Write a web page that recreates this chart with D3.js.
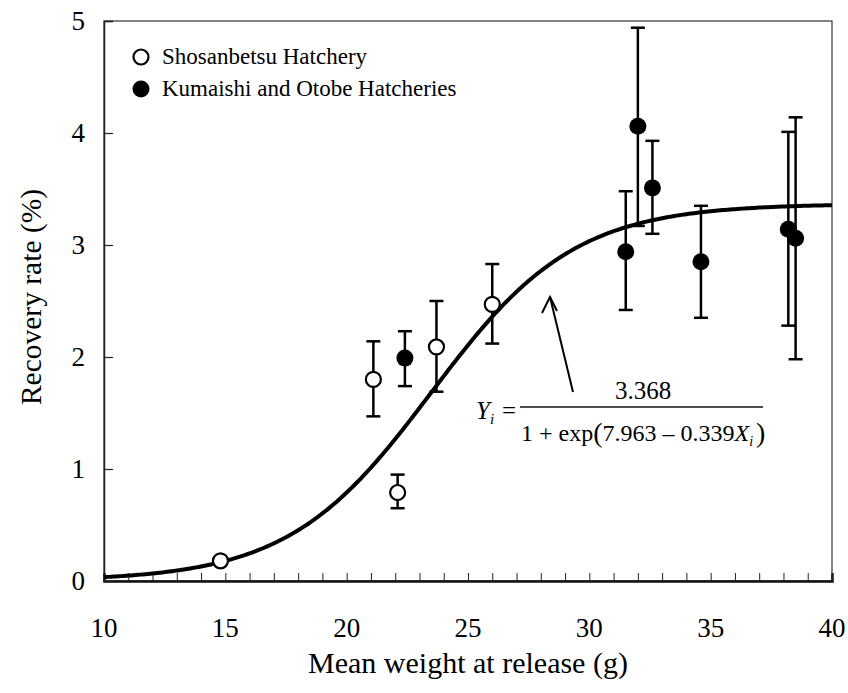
<!DOCTYPE html>
<html>
<head>
<meta charset="utf-8">
<script src="https://cdn.jsdelivr.net/npm/d3@7"></script>
<style>
  html, body { margin: 0; padding: 0; background: #fff; }
  #chart text, #chart tspan { font-family: "Liberation Serif", "Times New Roman", Tinos, serif; }
</style>
</head>
<body>
<svg id="chart" width="848" height="693"></svg>
<script>
// Shosanbetsu Hatchery: mean weight (g), recovery rate (%), error bar bounds
const shoWeight = [14.8, 21.1, 22.1, 23.7, 26.0];
const shoRate   = [0.18, 1.80, 0.79, 2.09, 2.47];
const shoLow    = [0.15, 1.47, 0.65, 1.69, 2.12];
const shoHigh   = [0.21, 2.14, 0.95, 2.50, 2.83];

// Kumaishi and Otobe Hatcheries
const kumWeight = [22.4, 31.5, 32.0, 32.6, 34.6, 38.2, 38.5];
const kumRate   = [1.99, 2.94, 4.06, 3.51, 2.85, 3.14, 3.06];
const kumLow    = [1.74, 2.42, 3.17, 3.10, 2.35, 2.28, 1.98];
const kumHigh   = [2.23, 3.48, 4.94, 3.93, 3.35, 4.01, 4.14];

// Fitted logistic model: Y = A / (1 + exp(B - C X))
const fitA = 3.368, fitB = 7.963, fitC = 0.339;

const xTicks = [10, 15, 20, 25, 30, 35, 40];
const yTicks = [0, 1, 2, 3, 4, 5];

const svg = d3.select("#chart");
const margin = { left: 104, right: 16, top: 21, bottom: 112 };
const W = 848, H = 693;
const x = d3.scaleLinear().domain([10, 40]).range([margin.left, W - margin.right]);
const y = d3.scaleLinear().domain([0, 5]).range([H - margin.bottom, margin.top]);

function label(sel) {
  return sel.style("font-family", '"Liberation Serif"').attr("fill", "#000");
}

// frame
svg.append("rect")
  .attr("x", x(10)).attr("y", y(5))
  .attr("width", x(40) - x(10)).attr("height", y(0) - y(5))
  .attr("fill", "none").attr("stroke", "#333").attr("stroke-width", 1.2);

// x axis: inward minor ticks every 1 g, labels every 5 g
const xAxis = d3.axisBottom(x).tickValues(d3.range(10, 41, 1)).tickSize(-8).tickFormat("");
const gx = svg.append("g").attr("transform", `translate(0,${y(0)})`).call(xAxis);
gx.select(".domain").attr("stroke", "#111").attr("stroke-width", 2.5);
gx.selectAll(".tick line").attr("stroke", "#222").attr("stroke-width", 1);

svg.append("g").selectAll("text").data(xTicks).join("text")
  .call(label)
  .attr("x", d => x(d)).attr("y", y(0) + 56)
  .attr("text-anchor", "middle")
  .attr("font-size", 27)
  .text(d => d);

// y axis: inward ticks at each unit
const yAxis = d3.axisLeft(y).tickValues(yTicks).tickSize(-9).tickFormat("");
const gy = svg.append("g").attr("transform", `translate(${x(10)},0)`).call(yAxis);
gy.select(".domain").attr("stroke", "#222").attr("stroke-width", 1.5);
gy.selectAll(".tick line").attr("stroke", "#222").attr("stroke-width", 1.2);

svg.append("g").selectAll("text").data(yTicks).join("text")
  .call(label)
  .attr("x", x(10) - 19).attr("y", d => y(d) + 9)
  .attr("text-anchor", "end")
  .attr("font-size", 27)
  .text(d => d);

// axis titles
svg.append("text").call(label)
  .attr("x", (x(10) + x(40)) / 2).attr("y", 673)
  .attr("text-anchor", "middle").attr("font-size", 30)
  .text("Mean weight at release (g)");
svg.append("text").call(label)
  .attr("transform", `translate(41,297) rotate(-90)`)
  .attr("text-anchor", "middle").attr("font-size", 29.5)
  .text("Recovery rate (%)");

// fitted curve
const curveX = d3.range(10, 40.01, 0.1);
const line = d3.line().x(d => x(d)).y(d => y(fitA / (1 + Math.exp(fitB - fitC * d))));
svg.append("path").datum(curveX)
  .attr("d", line).attr("fill", "none")
  .attr("stroke", "#000").attr("stroke-width", 4);

// error bars and points
function drawSeries(wt, rate, lo, hi, filled) {
  const g = svg.append("g");
  const idx = d3.range(wt.length);
  const cap = 7;
  g.selectAll("line.v").data(idx).join("line")
    .attr("x1", i => x(wt[i])).attr("x2", i => x(wt[i]))
    .attr("y1", i => y(lo[i])).attr("y2", i => y(hi[i]))
    .attr("stroke", "#000").attr("stroke-width", 2.5);
  g.selectAll("line.top").data(idx).join("line")
    .attr("x1", i => x(wt[i]) - cap).attr("x2", i => x(wt[i]) + cap)
    .attr("y1", i => y(hi[i])).attr("y2", i => y(hi[i]))
    .attr("stroke", "#000").attr("stroke-width", 2.5);
  g.selectAll("line.bot").data(idx).join("line")
    .attr("x1", i => x(wt[i]) - cap).attr("x2", i => x(wt[i]) + cap)
    .attr("y1", i => y(lo[i])).attr("y2", i => y(lo[i]))
    .attr("stroke", "#000").attr("stroke-width", 2.5);
  g.selectAll("circle").data(idx).join("circle")
    .attr("cx", i => x(wt[i])).attr("cy", i => y(rate[i]))
    .attr("r", filled ? 8.5 : 7.5)
    .attr("fill", filled ? "#000" : "#fff")
    .attr("stroke", "#000").attr("stroke-width", filled ? 0 : 2.2);
}
drawSeries(shoWeight, shoRate, shoLow, shoHigh, false);
drawSeries(kumWeight, kumRate, kumLow, kumHigh, true);

// legend
const legend = svg.append("g");
legend.append("circle").attr("cx", 141).attr("cy", 57).attr("r", 7.5)
  .attr("fill", "#fff").attr("stroke", "#000").attr("stroke-width", 2.2);
legend.append("text").call(label).attr("x", 162).attr("y", 64).attr("font-size", 23)
  .text("Shosanbetsu Hatchery");
legend.append("circle").attr("cx", 141).attr("cy", 89).attr("r", 8.5).attr("fill", "#000");
legend.append("text").call(label).attr("x", 162).attr("y", 96).attr("font-size", 23)
  .text("Kumaishi and Otobe Hatcheries");

// arrow pointing at the curve
const arrow = svg.append("g").attr("stroke", "#000").attr("stroke-width", 2).attr("fill", "none");
arrow.append("line").attr("x1", 573).attr("y1", 392).attr("x2", 550).attr("y2", 297);
arrow.append("path").attr("d", "M542,313 L550,297 L557,311");

// model equation
const eq = svg.append("g");
const lhs = eq.append("text").call(label).attr("x", 476).attr("y", 419).attr("font-size", 25);
lhs.append("tspan").attr("font-style", "italic").text("Y");
lhs.append("tspan").attr("font-style", "italic").attr("font-size", 15).attr("dy", 5).text("i");
lhs.append("tspan").attr("dy", -5).attr("dx", 8).text("=");
eq.append("line").attr("x1", 520).attr("x2", 763).attr("y1", 407).attr("y2", 407)
  .attr("stroke", "#111").attr("stroke-width", 1.3);
eq.append("text").call(label).attr("x", 643).attr("y", 399).attr("text-anchor", "middle")
  .attr("font-size", 25).text("3.368");
const den = eq.append("text").call(label).attr("x", 521).attr("y", 441).attr("font-size", 24);
den.append("tspan").text("1 + exp");
den.append("tspan").attr("font-size", 28).attr("dy", 1).text("(");
den.append("tspan").attr("dy", -1).text("7.963 \u2013 0.339");
den.append("tspan").attr("font-style", "italic").text("X");
den.append("tspan").attr("font-style", "italic").attr("font-size", 14).attr("dy", 5).text("i");
den.append("tspan").attr("font-size", 28).attr("dy", -4).attr("dx", 3).text(")");
</script>
</body>
</html>
